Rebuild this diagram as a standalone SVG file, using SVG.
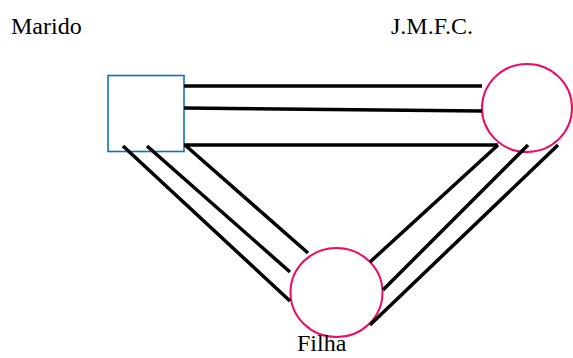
<svg xmlns="http://www.w3.org/2000/svg" width="573" height="358" viewBox="0 0 573 358">
<style>
.lbl{font-family:'Liberation Serif','Times New Roman',serif;font-size:24px;fill:#000}
.ln{stroke:#000;stroke-width:3.5;fill:none}
.sq{fill:none;stroke:#0a73c4;stroke-width:1.6}
.ci{fill:#fff;stroke:#f00a64;stroke-width:2}
</style>
<rect width="573" height="358" fill="#fff"/>
<g id="marido">
<rect class="sq" x="108" y="75.5" width="76" height="76"/>
<text class="lbl" font-family="Liberation Serif, serif" x="11" y="33.5">Marido</text>
</g>
<g id="jmfc">
<ellipse class="ci" cx="527" cy="108" rx="45" ry="44"/>
<text class="lbl" font-family="Liberation Serif, serif" x="391" y="33.5">J.M.F.C.</text>
</g>
<g id="filha">
<ellipse class="ci" cx="336.5" cy="292.5" rx="46" ry="44.5"/>
<text class="lbl" font-family="Liberation Serif, serif" x="297" y="351">Filha</text>
</g>
<g id="connectors">
<line class="ln" x1="184" y1="86" x2="482" y2="86"/>
<line class="ln" x1="184" y1="108" x2="482" y2="111"/>
<line class="ln" x1="184" y1="145" x2="498" y2="145"/>
<line class="ln" x1="185" y1="145" x2="308" y2="253"/>
<line class="ln" x1="123" y1="146" x2="290" y2="301"/>
<line class="ln" x1="147" y1="146" x2="290" y2="272"/>
<line class="ln" x1="498" y1="145" x2="370" y2="262"/>
<line class="ln" x1="528" y1="145" x2="383" y2="290"/>
<line class="ln" x1="558" y1="145" x2="370" y2="325"/>
</g>
</svg>
